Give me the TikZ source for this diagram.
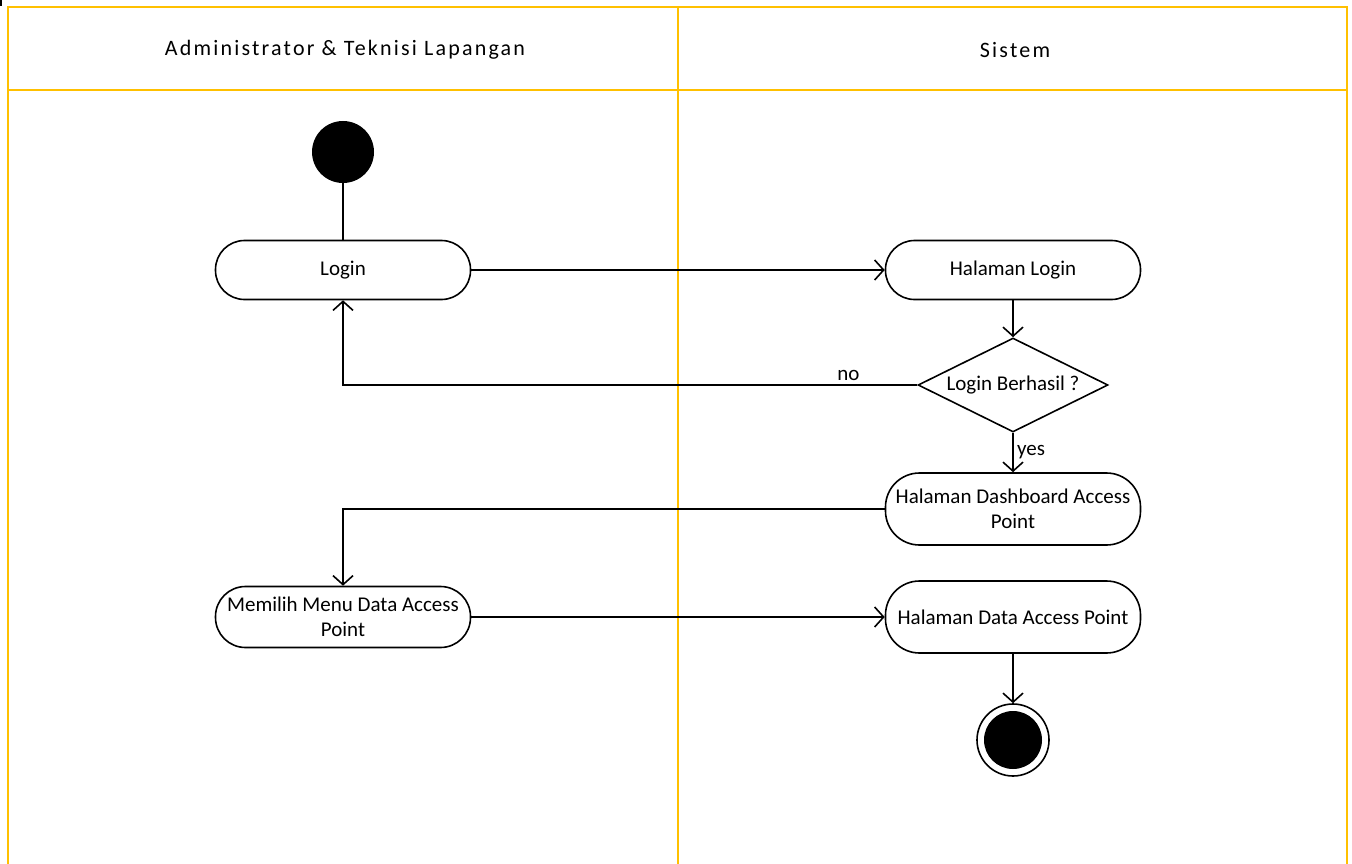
\documentclass[tikz,border=0pt]{standalone}
\usepackage{fontspec}
\setmainfont{Carlito}
\newfontfamily\headfont[LetterSpace=10]{Carlito}
\usetikzlibrary{shapes.geometric,arrows.meta}
\definecolor{lane}{HTML}{FFC000}
\tikzset{
  x=1pt, y=-1pt,
  lanebox/.style={draw=lane, line width=2pt},
  headtext/.style={font=\headfont\fontsize{22}{26}\selectfont, text=black},
  act/.style={draw, line width=1.6pt, fill=white, minimum width=255pt, minimum height=59pt,
    rounded corners=29pt, inner sep=2pt, align=center, font=\fontsize{21}{25}\selectfont},
  acttall/.style={act, minimum height=72pt, rounded corners=34pt},
  decision/.style={draw, line width=1.6pt, diamond, aspect=2, minimum width=190pt, minimum height=94pt,
    inner sep=0pt, font=\fontsize{21}{25}\selectfont},
  startnode/.style={circle, fill=black, minimum size=62pt, inner sep=0pt},
  flow/.style={line width=1.6pt, -{Straight Barb[length=9pt,width=20pt,line width=1.6pt]}},
  plainflow/.style={line width=1.6pt},
  edgetext/.style={font=\fontsize{21}{25}\selectfont}
}
\begin{document}
\begin{tikzpicture}
\useasboundingbox (0,0) rectangle (1352,864);
\fill[white] (0,0) rectangle (1352,864);
% swimlanes
\fill[black] (0,0) rectangle (2,6);
\draw[lanebox] (8,870) -- (8,7) -- (1347,7) -- (1347,870);
\draw[lanebox] (8,90) -- (1347,90);
\draw[lanebox] (678,7) -- (678,870);
\node[headtext] (laneA) at (345,50) {Administrator \& Teknisi Lapangan};
\node[headtext] (laneB) at (1015,50) {Sistem};
% activities
\node[startnode] (start) at (343,152) {};
\node[act] (login) at (343,270) {Login};
\node[act] (hlogin) at (1013,270) {Halaman Login};
\node[decision] (cek) at (1013,385) {Login Berhasil ?};
\node[acttall] (dash) at (1013,509) {Halaman Dashboard Access\\Point};
\node[act, minimum height=61pt, rounded corners=30pt] (menu) at (343,617) {Memilih Menu Data Access\\Point};
\node[acttall] (hdata) at (1013,617) {Halaman Data Access Point};
\node[circle, draw, line width=1.6pt, minimum size=72pt, inner sep=0pt] (end) at (1013,740) {};
\node[circle, fill=black, minimum size=58pt, inner sep=0pt] (endfill) at (end.center) {};
% flows
\draw[plainflow] (start) -- (login);
\draw[flow] (login) -- (hlogin);
\draw[flow] (hlogin) -- (cek);
\draw[flow] (cek.west) -| (login.south) node[pos=0.06, above, edgetext] {no};
\draw[flow] (cek) -- (dash) node[midway, right, edgetext] {yes};
\draw[flow] (dash.west) -| (menu.north);
\draw[flow] (menu) -- (hdata);
\draw[flow] (hdata) -- (end);
\end{tikzpicture}
\end{document}
